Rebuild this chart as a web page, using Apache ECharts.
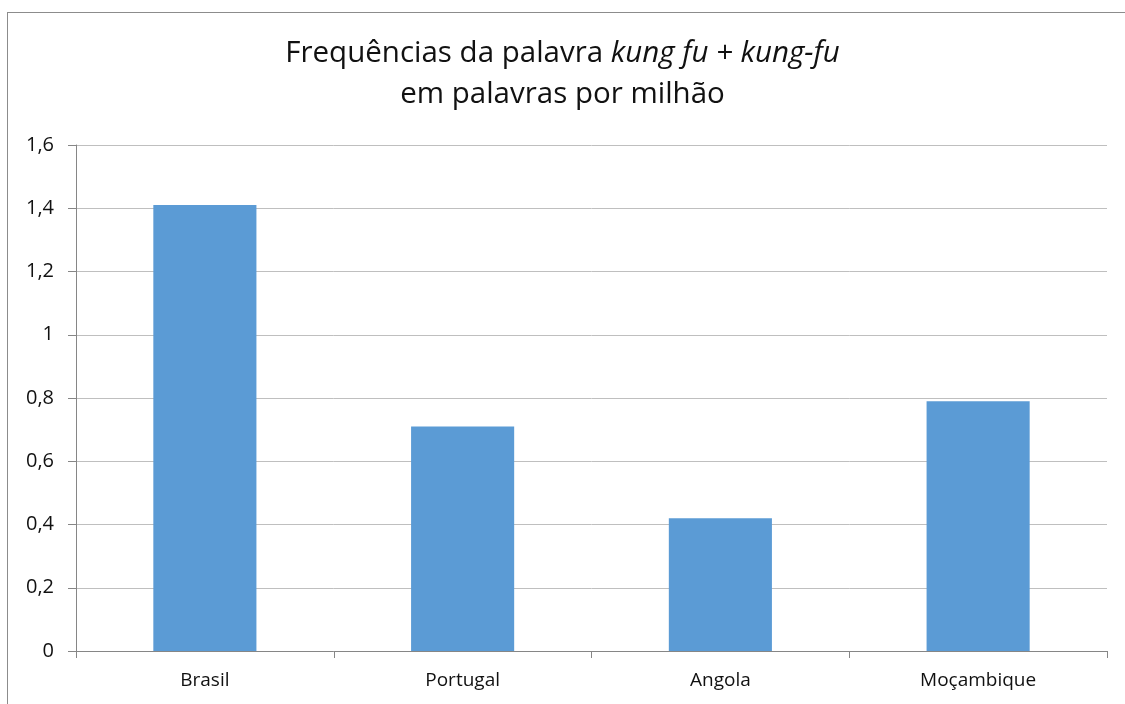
<!DOCTYPE html>
<html>
<head>
<meta charset="utf-8">
<script src="https://cdn.jsdelivr.net/npm/echarts@6/dist/echarts.min.js"></script>
<style>
html,body{margin:0;padding:0;background:#fff;}
#frame{position:absolute;left:7px;top:12px;width:1130px;height:700px;border:1px solid #8c8c8c;box-sizing:border-box;}
#chart{position:absolute;left:0;top:0;width:1125px;height:704px;}
</style>
</head>
<body>
<div id="frame"></div>
<div id="chart"></div>
<script>
const categories = ['Brasil', 'Portugal', 'Angola', 'Moçambique'];
const values = [1.41, 0.71, 0.42, 0.79];
const yMin = 0, yMax = 1.6, yStep = 0.2;

const font = '"Open Sans", "Liberation Sans", sans-serif';
const chart = echarts.init(document.getElementById('chart'), null, {renderer: 'canvas'});
chart.setOption({
  animation: false,
  title: {
    text: '{n|Frequências da palavra }{i|kung fu + kung-fu}\n{n|em palavras por milhão}',
    left: 'center',
    top: 28,
    textStyle: {
      fontWeight: 'normal',
      rich: {
        n: {fontFamily: font, fontSize: 29.5, fontWeight: 'normal', color: '#111', lineHeight: 41},
        i: {fontFamily: font, fontSize: 29.5, fontWeight: 'normal', fontStyle: 'italic', color: '#111', lineHeight: 41}
      }
    }
  },
  grid: {left: 76, right: 18, top: 145, bottom: 53, containLabel: false},
  xAxis: {
    type: 'category',
    data: categories,
    axisLine: {lineStyle: {color: '#868686', width: 1}},
    axisTick: {show: true, length: 7, alignWithLabel: false, lineStyle: {color: '#868686'}},
    axisLabel: {color: '#111', fontFamily: font, fontSize: 19, margin: 20}
  },
  yAxis: {
    type: 'value',
    min: yMin, max: yMax, interval: yStep,
    axisLine: {show: true, lineStyle: {color: '#868686', width: 1}},
    axisTick: {show: true, length: 8, lineStyle: {color: '#868686'}},
    splitLine: {lineStyle: {color: '#bfbfbf', width: 1}},
    axisLabel: {
      color: '#111', fontFamily: font, fontSize: 20, margin: 22,
      formatter: v => String(Math.round(v * 10) / 10).replace('.', ',')
    }
  },
  series: [{
    type: 'bar',
    data: values,
    barWidth: '40%',
    itemStyle: {color: '#5b9bd5'}
  }]
});
</script>
</body>
</html>
